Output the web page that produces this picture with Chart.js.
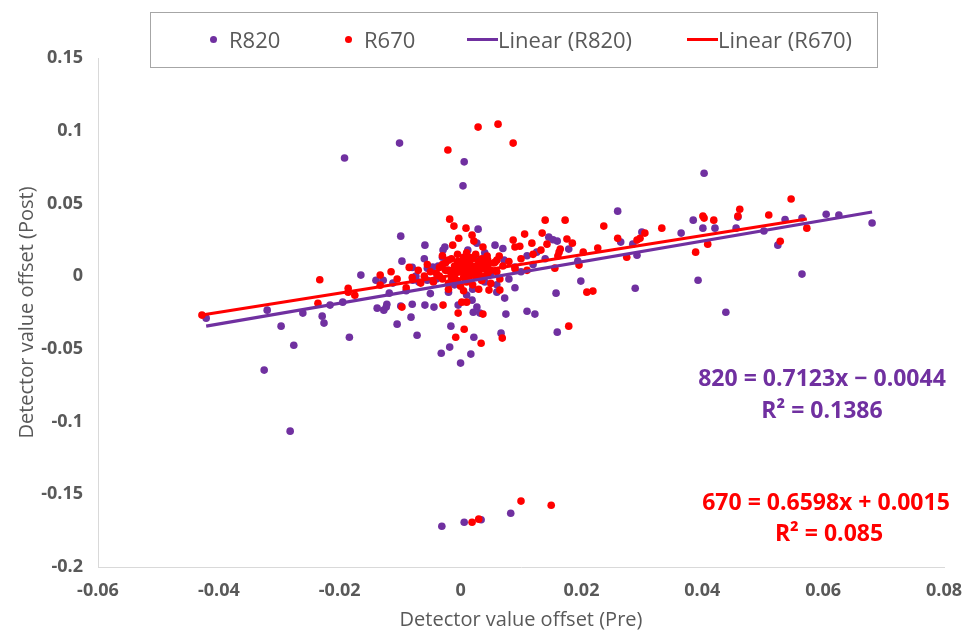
<!DOCTYPE html>
<html>
<head>
<meta charset="utf-8">
<script src="https://cdn.jsdelivr.net/npm/chart.js@4.4.1/dist/chart.umd.min.js"></script>
<style>
  body { margin: 0; background: #fff; }
  #wrap { position: relative; width: 968px; height: 635px; }
  #legend { position: absolute; left: 150px; top: 12px; width: 728px; height: 56px;
    border: 1px solid #a6a6a6; box-sizing: border-box; font-family: "Open Sans", sans-serif;
    font-size: 22px; color: #595959; }
  #legend span { position: absolute; top: 12px; line-height: 28px; white-space: nowrap; }
  #legend i { position: absolute; display: block; }
</style>
</head>
<body>
<div id="wrap">
  <canvas id="chart" width="968" height="635"></canvas>
  <div id="legend"></div>
</div>
<script>
// R820 points (Pre, Post)
const r820X = [-0.0192, -0.0101, 0.0006, 0.0004, 0.0403, -0.0325, -0.0282, -0.0276, -0.0031, 0.0006,
  0.0034, 0.0083, 0.026, 0.0459, 0.0385, 0.0401, 0.0421, 0.0456, 0.0537, 0.0565,
  0.0502, 0.0605, 0.0626, 0.0525, 0.0565, 0.0439, 0.0393, 0.0365, 0.03, 0.0285,
  0.0292, 0.0265, 0.0289, 0.0199, 0.0194, 0.0179, 0.0158, 0.0681, -0.0099, -0.0097,
  0.0029, -0.0059, 0.0057, -0.0029, -0.0026, 0.0146, 0.016, 0.0126, 0.0072, 0.009,
  0.0044, 0.0026, 0.0012, 0.0027, 0.0006, -0.0037, -0.0055, -0.0046, -0.0074, -0.0079,
  -0.0069, -0.0055, -0.0112, -0.0128, -0.0118, -0.0123, -0.008, -0.0059, -0.0044, -0.0004,
  0.0019, 0.0021, 0.0073, 0.0027, 0.0032, -0.0016, 0.0022, -0.0032, -0.0018, 0.0017,
  0.0067, -0.0072, -0.0082, -0.0105, -0.0099, 0.016, 0.011, 0.0123, 0.0075, -0.0421,
  -0.032, -0.0297, -0.0261, -0.0229, -0.0226, -0.0216, -0.0195, -0.0184, -0.0165, -0.014,
  -0.0138, -0.0127, -0.0122, 0.0, 0.0153, -0.002, 0.001, 0.003, -0.001, 0.002,
  0.004, 0.005, -0.004, -0.002, 0.006, 0.008, 0.010, 0.012, 0.014, 0.011,
  -0.006, -0.008, -0.009, -0.003, 0.004, 0.007, -0.005, 0.001, 0.006, 0.009];
const r820Y = [0.0812, 0.0915, 0.0786, 0.0621, 0.0708, -0.0646, -0.1066, -0.0475, -0.172, -0.1692,
  -0.1675, -0.163, 0.0447, 0.0406, 0.0385, 0.033, 0.033, 0.033, 0.039, 0.04,
  0.031, 0.0426, 0.042, 0.0213, 0.0014, -0.0248, -0.0028, 0.0296, 0.0303, 0.022,
  0.0144, 0.0234, -0.0083, -0.0034, 0.0103, 0.0186, -0.0117, 0.0365, 0.0275, 0.0103,
  0.0323, 0.0213, 0.0213, 0.0179, 0.02, 0.0268, 0.0241, 0.0165, 0.011, 0.0062,
  0.0089, 0.0124, 0.0179, 0.0227, 0.011, 0.0069, 0.0055, 0.0062, 0.0, -0.0028,
  -0.0041, -0.0028, -0.0048, -0.0028, -0.0117, -0.0213, -0.0193, -0.0199, -0.0213, -0.0199,
  -0.0165, -0.0248, -0.0151, -0.0213, -0.0254, -0.0344, -0.042, -0.053, -0.0488, -0.0536,
  -0.0392, -0.0406, -0.0282, -0.033, -0.0206, -0.0385, -0.0241, -0.0261, -0.0261, -0.0289,
  -0.0234, -0.0344, -0.0254, -0.0275, -0.0323, -0.0199, -0.0179, -0.042, 0.0007, -0.0028,
  -0.022, -0.0234, -0.0193, -0.0598, 0.025, 0.004, 0.002, 0.005, -0.006, -0.009,
  -0.004, 0.002, -0.002, -0.011, -0.006, -0.002, 0.003, 0.008, 0.012, 0.014,
  0.012, 0.006, -0.01, 0.013, 0.016, 0.019, -0.012, -0.013, -0.011, -0.008];

// R670 points (Pre, Post)
const r670X = [-0.0021, 0.0029, 0.0062, 0.0087, 0.0019, 0.003, 0.01, 0.015, 0.0173, 0.0237,
  0.0547, 0.0462, 0.0459, 0.051, 0.0401, 0.0403, 0.0419, 0.0573, 0.0529, 0.0389,
  0.0409, 0.0333, 0.0305, 0.0297, 0.0292, 0.026, 0.0275, 0.0209, 0.0219, 0.0227,
  0.0203, 0.0185, 0.0176, 0.0196, 0.0165, 0.0163, 0.0161, 0.0156, 0.0179, -0.0018,
  -0.0011, 0.0009, -0.0003, 0.0019, 0.0022, -0.0013, 0.0037, 0.0044, 0.0106, 0.0135,
  0.014, 0.0098, 0.0118, 0.0143, 0.0133, 0.009, 0.0087, 0.0064, 0.0057, -0.0066,
  -0.0133, -0.0097, -0.0029, 0.0002, 0.001, 0.0047, 0.0065, 0.0037, -0.0004, -0.0008,
  0.0006, 0.0034, 0.0069, -0.0428, -0.0233, -0.0236, -0.0186, -0.0186, -0.0175, -0.0133,
  -0.004, -0.0035, -0.003, -0.0025, -0.002, -0.002, -0.0015, -0.001, -0.001, -0.0005,
  -0.0005, 0.0, 0.0, 0.0, 0.0005, 0.0005, 0.001, 0.001, 0.0015, 0.0015,
  0.002, 0.002, 0.002, 0.0025, 0.003, 0.003, 0.0035, 0.0035, 0.004, 0.004,
  0.0045, 0.005, 0.005, -0.0045, -0.005, -0.006, -0.0055, -0.003, 0.001, 0.0025,
  -0.002, 0.0005, 0.003, 0.006, 0.007, 0.008, 0.0065, -0.007, -0.008, -0.0085,
  0.009, 0.010, 0.012, 0.011, -0.0105, -0.009, -0.0115,
  -0.0025, -0.0015, -0.0005, 0.0005, 0.0015, 0.0025, 0.0035, 0.0045, -0.002, -0.001,
  0.0, 0.001, 0.002, 0.003, 0.004, -0.003, -0.0015, 0.0005, 0.0025, 0.0035,
  -0.0005, 0.0015, 0.0045, -0.0035, 0.0055, 0.006, -0.001, 0.002, 0.0005, 0.003];
const r670Y = [0.0867, 0.1025, 0.1045, 0.0915, -0.1692, -0.1671, -0.1547, -0.1575, 0.0385, 0.0344,
  0.053, 0.046, 0.0413, 0.042, 0.0413, 0.0399, 0.0385, 0.033, 0.024, 0.0165,
  0.022, 0.033, 0.0296, 0.026, 0.0248, 0.026, 0.013, -0.011, -0.0103, 0.0193,
  0.0165, 0.0227, 0.0255, 0.0076, 0.0186, 0.0165, 0.0138, 0.0055, -0.0344, 0.0392,
  0.0344, 0.033, 0.0261, 0.0282, 0.0241, 0.0213, 0.02, 0.0138, 0.0289, 0.0296,
  0.0385, 0.0206, 0.0227, 0.022, 0.0179, 0.02, 0.0248, 0.0138, 0.0096, -0.0048,
  0.0007, -0.0213, -0.0199, -0.0179, -0.0179, -0.0096, -0.0096, -0.0261, -0.0254, -0.042,
  -0.0365, -0.0461, -0.0426, -0.0268, -0.0025, -0.0186, -0.0083, -0.011, -0.0131, -0.0062,
  0.002, 0.006, -0.002, 0.009, 0.004, -0.005, 0.012, 0.001, 0.007, -0.003,
  0.015, 0.004, 0.010, -0.007, 0.002, 0.013, 0.006, -0.004, 0.009, 0.0,
  0.003, 0.012, -0.006, 0.007, 0.001, 0.010, -0.003, 0.005, 0.008, 0.0,
  0.011, 0.004, -0.005, -0.004, 0.003, 0.0, 0.008, 0.014, 0.016, 0.015,
  -0.009, -0.010, -0.009, 0.003, 0.007, 0.01, -0.002, 0.004, -0.001, 0.006,
  0.005, 0.012, 0.015, 0.004, -0.002, -0.008, 0.003,
  0.004, 0.001, 0.008, 0.005, 0.003, 0.0, 0.008, 0.002, 0.011, -0.001,
  0.006, 0.009, 0.006, 0.003, 0.005, 0.008, -0.002, -0.001, 0.004, 0.012,
  0.01, 0.013, 0.007, 0.0, 0.009, 0.011, 0.003, 0.001, 0.007, 0.006];

// linear trendlines as labelled on the chart
const fit820 = { slope: 0.7123, intercept: -0.0044 };
const fit670 = { slope: 0.6598, intercept: 0.0015 };

const xTickMin = -0.06, xTickMax = 0.08, xTickStep = 0.02;
const yTickMin = -0.2, yTickMax = 0.15, yTickStep = 0.05;

const purple = '#7030A0';
const red = '#FF0000';
const grey = '#595959';

const toPoints = (xs, ys) => xs.map((x, i) => ({ x: x, y: ys[i] }));
const trend = (xs, fit) => {
    const lo = Math.min(...xs), hi = Math.max(...xs);
    return [lo, hi].map(x => ({ x: x, y: fit.slope * x + fit.intercept }));
};
const tickFmt = v => String(+v.toFixed(2));

const eqLabels = {
    id: 'eqLabels',
    afterDatasetsDraw(chart) {
        const ctx = chart.ctx;
        ctx.save();
        ctx.font = 'bold 23px "Open Sans"';
        ctx.textAlign = 'center';
        ctx.textBaseline = 'middle';
        ctx.fillStyle = purple;
        ctx.fillText('820 = 0.7123x \u2212 0.0044', 822, 379);
        ctx.fillText('R\u00b2 = 0.1386', 822, 411);
        ctx.fillStyle = red;
        ctx.fillText('670 = 0.6598x + 0.0015', 826, 503);
        ctx.fillText('R\u00b2 = 0.085', 829, 534);
        ctx.restore();
    }
};

new Chart(document.getElementById('chart'), {
    type: 'scatter',
    data: {
        datasets: [
            { label: 'R820', data: toPoints(r820X, r820Y), backgroundColor: purple, pointRadius: 3.8, borderWidth: 0, order: 4 },
            { label: 'R670', data: toPoints(r670X, r670Y), backgroundColor: red, pointRadius: 3.8, borderWidth: 0, order: 3 },
            { label: 'Linear (R820)', type: 'line', data: trend(r820X, fit820), borderColor: purple, borderWidth: 3.2, pointRadius: 0, order: 2 },
            { label: 'Linear (R670)', type: 'line', data: trend(r670X, fit670), borderColor: red, borderWidth: 3.2, pointRadius: 0, order: 1 }
        ]
    },
    options: {
        responsive: false,
        animation: false,
        events: [],
        layout: { padding: { left: 0, right: 24, top: 58, bottom: 0 } },
        plugins: { legend: { display: false }, tooltip: { enabled: false } },
        scales: {
            x: {
                type: 'linear', min: xTickMin, max: xTickMax,
                afterFit: s => { s.height = 68; s.paddingLeft = 0; s.paddingRight = 0; },
                ticks: { stepSize: xTickStep, callback: tickFmt, color: grey, padding: 13, maxRotation: 0,
                    font: { family: '"Open Sans"', size: 18, weight: 'bold' } },
                grid: { display: false, drawTicks: false },
                border: { color: '#d9d9d9', width: 1 },
                title: { display: true, text: 'Detector value offset (Pre)', color: grey,
                    font: { family: '"Open Sans"', size: 20 }, padding: { top: 0, bottom: 3 } }
            },
            y: {
                type: 'linear', min: yTickMin, max: yTickMax,
                afterFit: s => { s.width = 98; s.paddingTop = 0; s.paddingBottom = 0; },
                ticks: { stepSize: yTickStep, callback: tickFmt, color: grey, padding: 15,
                    font: { family: '"Open Sans"', size: 18, weight: 'bold' } },
                grid: { display: false, drawTicks: false },
                border: { color: '#d9d9d9', width: 1 },
                title: { display: true, text: 'Detector value offset (Post)', color: grey,
                    font: { family: '"Open Sans"', size: 20 }, padding: { top: 15, bottom: 0 } }
            }
        }
    },
    plugins: [eqLabels]
});

// legend box drawn in HTML to match the boxed legend
const legendItems = [
    { text: 'R820', color: purple, kind: 'dot', mark: 63, textLeft: 78 },
    { text: 'R670', color: red, kind: 'dot', mark: 198, textLeft: 213 },
    { text: 'Linear (R820)', color: purple, kind: 'line', mark: 316, textLeft: 347 },
    { text: 'Linear (R670)', color: red, kind: 'line', mark: 536, textLeft: 567 }
];
const legendEl = document.getElementById('legend');
legendItems.forEach(item => {
    const m = document.createElement('i');
    m.style.background = item.color;
    if (item.kind === 'dot') {
        Object.assign(m.style, { left: (item.mark - 4) + 'px', top: '23px', width: '7px', height: '7px', borderRadius: '50%' });
    } else {
        Object.assign(m.style, { left: item.mark + 'px', top: '25px', width: '31px', height: '3px' });
    }
    legendEl.appendChild(m);
    const t = document.createElement('span');
    t.textContent = item.text;
    t.style.left = item.textLeft + 'px';
    legendEl.appendChild(t);
});
</script>
</body>
</html>
